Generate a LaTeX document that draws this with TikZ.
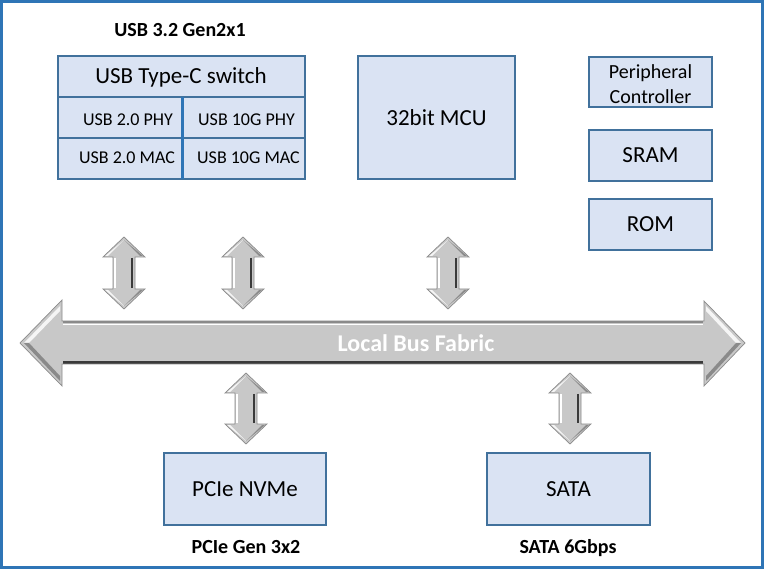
\documentclass[tikz,border=0pt]{standalone}
\usepackage{fontspec}
\setmainfont{Carlito}
\definecolor{boxfill}{HTML}{DAE3F3}
\definecolor{boxline}{HTML}{41719C}
\definecolor{framecol}{HTML}{2E75B6}
\definecolor{arrfill}{HTML}{C8C8C8}
\definecolor{arrdark}{HTML}{3A3A3A}
\definecolor{arredge}{HTML}{8A8A8A}
\tikzset{
  box/.style={draw=boxline, fill=boxfill, line width=1.3pt, inner sep=0pt, font=\fontsize{23}{27}\selectfont},
  celltext/.style={font=\fontsize{18}{22}\selectfont, inner sep=0pt},
  caption/.style={font=\bfseries\fontsize{20}{24}\selectfont, inner sep=0pt},
}
\newcommand\vdarrow[3]{%
  \fill[arrfill] (#1,#2) -- (#1+21,#2+20) -- (#1+11,#2+20) -- (#1+11,#3-20) -- (#1+21,#3-20)
     -- (#1,#3) -- (#1-21,#3-20) -- (#1-11,#3-20) -- (#1-11,#2+20) -- (#1-21,#2+20) -- cycle;
  \fill[white!92!gray] (#1,#2+3) -- (#1-16,#2+19) -- (#1-19,#2+19) -- cycle;
  \fill[arredge] (#1,#2+3) -- (#1+16,#2+19) -- (#1+19,#2+19) -- cycle;
  \fill[white!92!gray] (#1,#3-3) -- (#1-16,#3-19) -- (#1-19,#3-19) -- cycle;
  \fill[arredge] (#1,#3-3) -- (#1+16,#3-19) -- (#1+19,#3-19) -- cycle;
  \draw[arrdark, line width=2.4pt] (#1+8,#2+21) -- (#1+8,#3-21);
  \draw[white, line width=1.2pt] (#1-9,#2+21) -- (#1-9,#3-21);
  \draw[arredge, line width=0.7pt] (#1,#2) -- (#1+21,#2+20) -- (#1+11,#2+20) -- (#1+11,#3-20) -- (#1+21,#3-20)
     -- (#1,#3) -- (#1-21,#3-20) -- (#1-11,#3-20) -- (#1-11,#2+20) -- (#1-21,#2+20) -- cycle;
}
\begin{document}
\begin{tikzpicture}[x=1pt,y=-1pt]
\useasboundingbox[fill=white] (0,0) rectangle (764,572);
\draw[framecol, line width=3.2pt] (1.6,1.6) rectangle (762.4,567.4);

% USB block
\node[caption] (usbcap) at (180,30) {USB 3.2 Gen2x1};
\node[box, minimum width=247pt, minimum height=123pt] (usb) at (181.5,117.5) {};
\node[font=\fontsize{23}{27}\selectfont, inner sep=0pt] (usbtitle) at (181,77) {USB Type-C switch};
\draw[boxline, line width=1.3pt] (58,97) -- (305,97);
\draw[boxline, line width=1.3pt] (58,138) -- (305,138);
\draw[framecol, line width=3pt] (182,97) -- (182,179);
\node[celltext] (phy2) at (128,120) {USB 2.0 PHY};
\node[celltext] (phy10) at (246.5,120) {USB 10G PHY};
\node[celltext] (mac2) at (127,158) {USB 2.0 MAC};
\node[celltext] (mac10) at (248.5,158) {USB 10G MAC};

% MCU and memories
\node[box, minimum width=157pt, minimum height=123pt] (mcu) at (436.5,117.5) {32bit MCU};
\node[box, minimum width=123pt, minimum height=50pt] (periph) at (650.5,82) {};
\node[font=\fontsize{20}{25}\selectfont, align=center, inner sep=0pt] (periphtext) at (650.5,84.5) {Peripheral\\Controller};
\node[box, minimum width=123pt, minimum height=51pt] (sram) at (650.5,155.5) {SRAM};
\node[box, minimum width=123pt, minimum height=51pt] (rom) at (650.5,224.5) {ROM};

% bottom blocks
\node[box, minimum width=162pt, minimum height=72pt] (pcie) at (245,489) {PCIe NVMe};
\node[box, minimum width=163pt, minimum height=72pt] (sata) at (568.5,489) {SATA};
\node[caption] (pciecap) at (246,547) {PCIe Gen 3x2};
\node[caption] (satacap) at (568,548) {SATA 6Gbps};

% bus
\fill[arrfill] (20,343) -- (62,300) -- (62,321) -- (704,321) -- (704,301) -- (745,343)
   -- (704,386) -- (704,364) -- (62,364) -- (62,386) -- cycle;
\fill[white!92!gray] (24,343) -- (60,306) -- (60,311) -- (29,343) -- cycle;
\fill[arredge] (24,343) -- (60,381) -- (60,376) -- (29,343) -- cycle;
\fill[white!92!gray] (741,343) -- (706,306) -- (706,311) -- (736,343) -- cycle;
\fill[arredge] (741,343) -- (706,381) -- (706,376) -- (736,343) -- cycle;
\draw[arredge, line width=2pt] (63,322) -- (703,322);
\draw[white, line width=1pt] (63,324.5) -- (703,324.5);
\draw[arrdark, line width=2.6pt] (63,362.5) -- (703,362.5);
\draw[arredge, line width=0.7pt] (20,343) -- (62,300) -- (62,321) -- (704,321) -- (704,301) -- (745,343)
   -- (704,386) -- (704,364) -- (62,364) -- (62,386) -- cycle;
\node[font=\bfseries\fontsize{24}{28}\selectfont, text=white, inner sep=0pt] (bus) at (416,343) {Local Bus Fabric};

% double arrows
\vdarrow{124}{237}{309}
\vdarrow{243}{237}{309}
\vdarrow{448}{237}{309}
\vdarrow{246}{373}{444}
\vdarrow{570}{373}{444}
\end{tikzpicture}
\end{document}
